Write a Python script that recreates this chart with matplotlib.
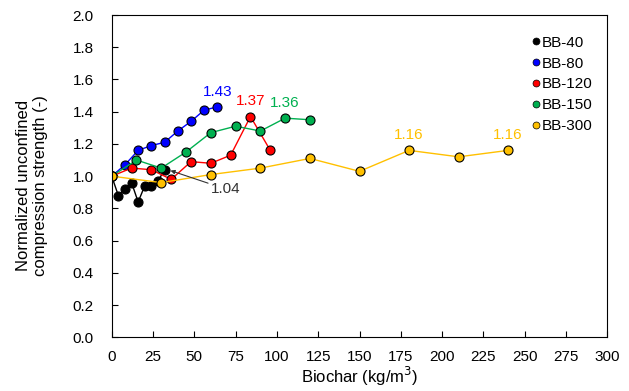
import matplotlib.pyplot as plt
import numpy as np

plt.rcParams["font.family"] = ["Liberation Sans", "DejaVu Sans"]
plt.rcParams["font.size"] = 11

# biochar content (kg/m3) and normalized UCS for each series
labels = ["BB-40", "BB-80", "BB-120", "BB-150", "BB-300"]
colors = ["#000000", "#0000FF", "#FF0000", "#00B050", "#FFC000"]

x_bb40 = [0, 4, 8, 12, 16, 20, 24, 28, 32]
y_bb40 = [1.00, 0.88, 0.92, 0.96, 0.84, 0.94, 0.94, 0.97, 1.04]

x_bb80 = [0, 8, 16, 24, 32, 40, 48, 56, 64]
y_bb80 = [1.00, 1.07, 1.16, 1.19, 1.21, 1.28, 1.34, 1.41, 1.43]

x_bb120 = [0, 12, 24, 36, 48, 60, 72, 84, 96]
y_bb120 = [1.00, 1.05, 1.04, 0.98, 1.09, 1.08, 1.13, 1.37, 1.16]

x_bb150 = [0, 15, 30, 45, 60, 75, 90, 105, 120]
y_bb150 = [1.00, 1.10, 1.05, 1.15, 1.27, 1.31, 1.28, 1.36, 1.35]

x_bb300 = [0, 30, 60, 90, 120, 150, 180, 210, 240]
y_bb300 = [1.00, 0.96, 1.01, 1.05, 1.11, 1.03, 1.16, 1.12, 1.16]

xs = [x_bb40, x_bb80, x_bb120, x_bb150, x_bb300]
ys = [y_bb40, y_bb80, y_bb120, y_bb150, y_bb300]

fig = plt.figure(figsize=(6.29, 3.91), dpi=100)
ax = fig.add_axes([0.1776, 0.1373, 0.7879, 0.8243])

for x, y, c in zip(xs, ys, colors):
    ax.plot(x, y, color=c, lw=1.0, marker="o", ms=6.5, mfc=c, mec="black", mew=0.8)

# legend uses small markers only
handles = [plt.Line2D([], [], ls="none", marker="o", ms=5, mfc=c, mec="black", mew=0.5)
           for c in colors]
ax.legend(handles, labels, loc="upper left", bbox_to_anchor=(0.835, 0.955), frameon=False,
          handlelength=0.6, handletextpad=0.05, labelspacing=0.45, borderaxespad=0, fontsize=11)

# peak value labels
off = 0.05
ax.text(x_bb80[-1], y_bb80[-1] + off, f"{y_bb80[-1]:.2f}", color=colors[1], ha="center", va="bottom")
ax.text(x_bb120[7], y_bb120[7] + off, f"{y_bb120[7]:.2f}", color=colors[2], ha="center", va="bottom")
ax.text(x_bb150[7], y_bb150[7] + off, f"{y_bb150[7]:.2f}", color=colors[3], ha="center", va="bottom")
ax.text(x_bb300[6], y_bb300[6] + off, f"{y_bb300[6]:.2f}", color=colors[4], ha="center", va="bottom")
ax.text(x_bb300[8], y_bb300[8] + off, f"{y_bb300[8]:.2f}", color=colors[4], ha="center", va="bottom")
ax.annotate(f"{y_bb40[-1]:.2f}", xy=(x_bb40[-1] + 2, y_bb40[-1]), xytext=(60, 0.92),
            ha="left", va="center", color="#333333",
            arrowprops=dict(arrowstyle="-|>", color="#333333", lw=0.8, mutation_scale=6,
                            shrinkA=0, shrinkB=2))

ax.set_xlim(0, 300)
ax.set_ylim(0, 2.0)
ax.set_xticks(np.arange(0, 301, 25))
ax.set_yticks(np.arange(0, 2.01, 0.2))
ax.yaxis.set_major_formatter(plt.FormatStrFormatter("%.1f"))
ax.tick_params(direction="in", length=4, width=0.8)
ax.tick_params(axis="y", pad=13)
ax.tick_params(axis="x", pad=9)
for s in ax.spines.values():
    s.set_linewidth(0.8)

ax.set_xlabel("Biochar (kg/m$^3$)", fontsize=12, labelpad=1)
ax.set_ylabel("Normalized unconfined\ncompression strength (-)", fontsize=12)
ax.yaxis.set_label_coords(-0.128, 0.47)

fig.savefig("out.png", dpi=100)
